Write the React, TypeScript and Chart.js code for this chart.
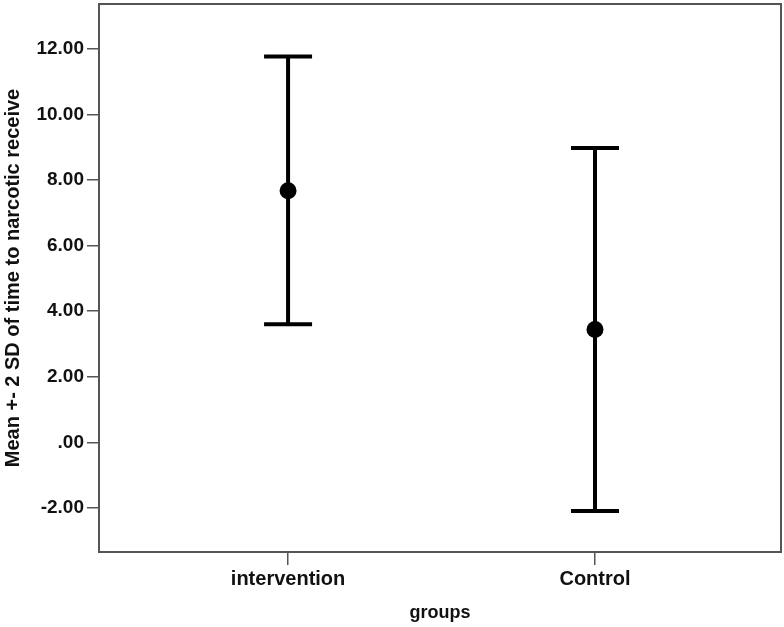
import React, { useEffect, useRef } from "react";
import { Chart, registerables } from "chart.js";

Chart.register(...registerables);

const groups = ["intervention", "Control"];
const means = [7.68, 3.44];
const lowerBounds = [3.6, -2.1];
const upperBounds = [11.78, 8.98];
const yTickValues = [-2, 0, 2, 4, 6, 8, 10, 12];
const yTickLabels = ["-2.00", ".00", "2.00", "4.00", "6.00", "8.00", "10.00", "12.00"];
const yTitle = "Mean +- 2 SD of time to narcotic receive";
const xTitle = "groups";

const FONT = "'Liberation Sans', Arial, sans-serif";
const AXIS_COLOR = "#555555";

const errorBarPlugin = {
  id: "errorBars",
  beforeDatasetsDraw(chart: any) {
    const { ctx, scales } = chart;
    const xs = scales.x;
    const ys = scales.y;
    ctx.save();
    ctx.strokeStyle = "#000000";
    ctx.lineWidth = 4;
    ctx.lineCap = "butt";
    for (let i = 0; i < groups.length; i++) {
      const x = xs.getPixelForValue(i + 1);
      const yLo = ys.getPixelForValue(lowerBounds[i]);
      const yHi = ys.getPixelForValue(upperBounds[i]);
      ctx.beginPath();
      ctx.moveTo(x, yLo);
      ctx.lineTo(x, yHi);
      ctx.moveTo(x - 24, yLo);
      ctx.lineTo(x + 24, yLo);
      ctx.moveTo(x - 24, yHi);
      ctx.lineTo(x + 24, yHi);
      ctx.stroke();
    }
    ctx.restore();
  },
};

const framePlugin = {
  id: "frame",
  afterDraw(chart: any) {
    const { ctx, chartArea } = chart;
    ctx.save();
    ctx.strokeStyle = AXIS_COLOR;
    ctx.lineWidth = 2;
    ctx.strokeRect(chartArea.left, chartArea.top, chartArea.right - chartArea.left, chartArea.bottom - chartArea.top);
    ctx.restore();
  },
};

export default function App() {
  const ref = useRef<HTMLCanvasElement>(null);
  useEffect(() => {
    document.body.style.margin = "0";
    const chart = new Chart(ref.current!, {
      type: "scatter",
      data: {
        datasets: [
          {
            data: means.map((m, i) => ({ x: i + 1, y: m })),
            pointRadius: 8.5,
            pointHoverRadius: 8.5,
            pointBackgroundColor: "#000000",
            pointBorderColor: "#000000",
            pointBorderWidth: 0,
          },
        ],
      },
      options: {
        animation: false,
        responsive: false,
        maintainAspectRatio: false,
        layout: { autoPadding: false, padding: { top: 4, right: 3, left: 0, bottom: 0 } },
        plugins: {
          legend: { display: false },
          tooltip: { enabled: false },
        },
        scales: {
          x: {
            type: "linear",
            min: 0.384,
            max: 2.606,
            afterBuildTicks: (scale: any) => {
              scale.ticks = groups.map((_, i) => ({ value: i + 1 }));
            },
            afterFit: (scale: any) => {
              scale.height = 75;
              scale.paddingLeft = 0;
              scale.paddingRight = 0;
            },
            border: { display: true, color: AXIS_COLOR, width: 2 },
            grid: { drawOnChartArea: false, color: AXIS_COLOR, lineWidth: 1.5, tickLength: 13 },
            ticks: {
              autoSkip: false,
              maxRotation: 0,
              padding: 2,
              color: "#111111",
              font: { family: FONT, size: 20, weight: "bold" },
              callback: (_v: any, i: number) => groups[i],
            },
            title: {
              display: true,
              text: xTitle,
              color: "#111111",
              font: { family: FONT, size: 18, weight: "bold" },
              padding: { top: 3, bottom: 3 },
            },
          },
          y: {
            type: "linear",
            min: -3.35,
            max: 13.38,
            afterBuildTicks: (scale: any) => {
              scale.ticks = yTickValues.map((v) => ({ value: v }));
            },
            afterFit: (scale: any) => {
              scale.width = 99;
              scale.paddingTop = 0;
              scale.paddingBottom = 0;
            },
            border: { display: true, color: AXIS_COLOR, width: 2 },
            grid: { drawOnChartArea: false, color: AXIS_COLOR, lineWidth: 1.5, tickLength: 12 },
            ticks: {
              autoSkip: false,
              padding: 3,
              color: "#111111",
              font: { family: FONT, size: 19, weight: "bold" },
              callback: (_v: any, i: number) => yTickLabels[i],
            },
            title: {
              display: true,
              text: yTitle,
              color: "#111111",
              font: { family: FONT, size: 20, weight: "bold" },
              padding: { top: 1, bottom: 0 },
            },
          },
        },
      },
      plugins: [errorBarPlugin, framePlugin],
    } as any);
    return () => chart.destroy();
  }, []);
  return (
    <div style={{ position: "absolute", left: 0, top: 0, width: 784, height: 627, background: "#ffffff" }}>
      <canvas ref={ref} width={784} height={627} style={{ width: 784, height: 627 }} />
    </div>
  );
}
